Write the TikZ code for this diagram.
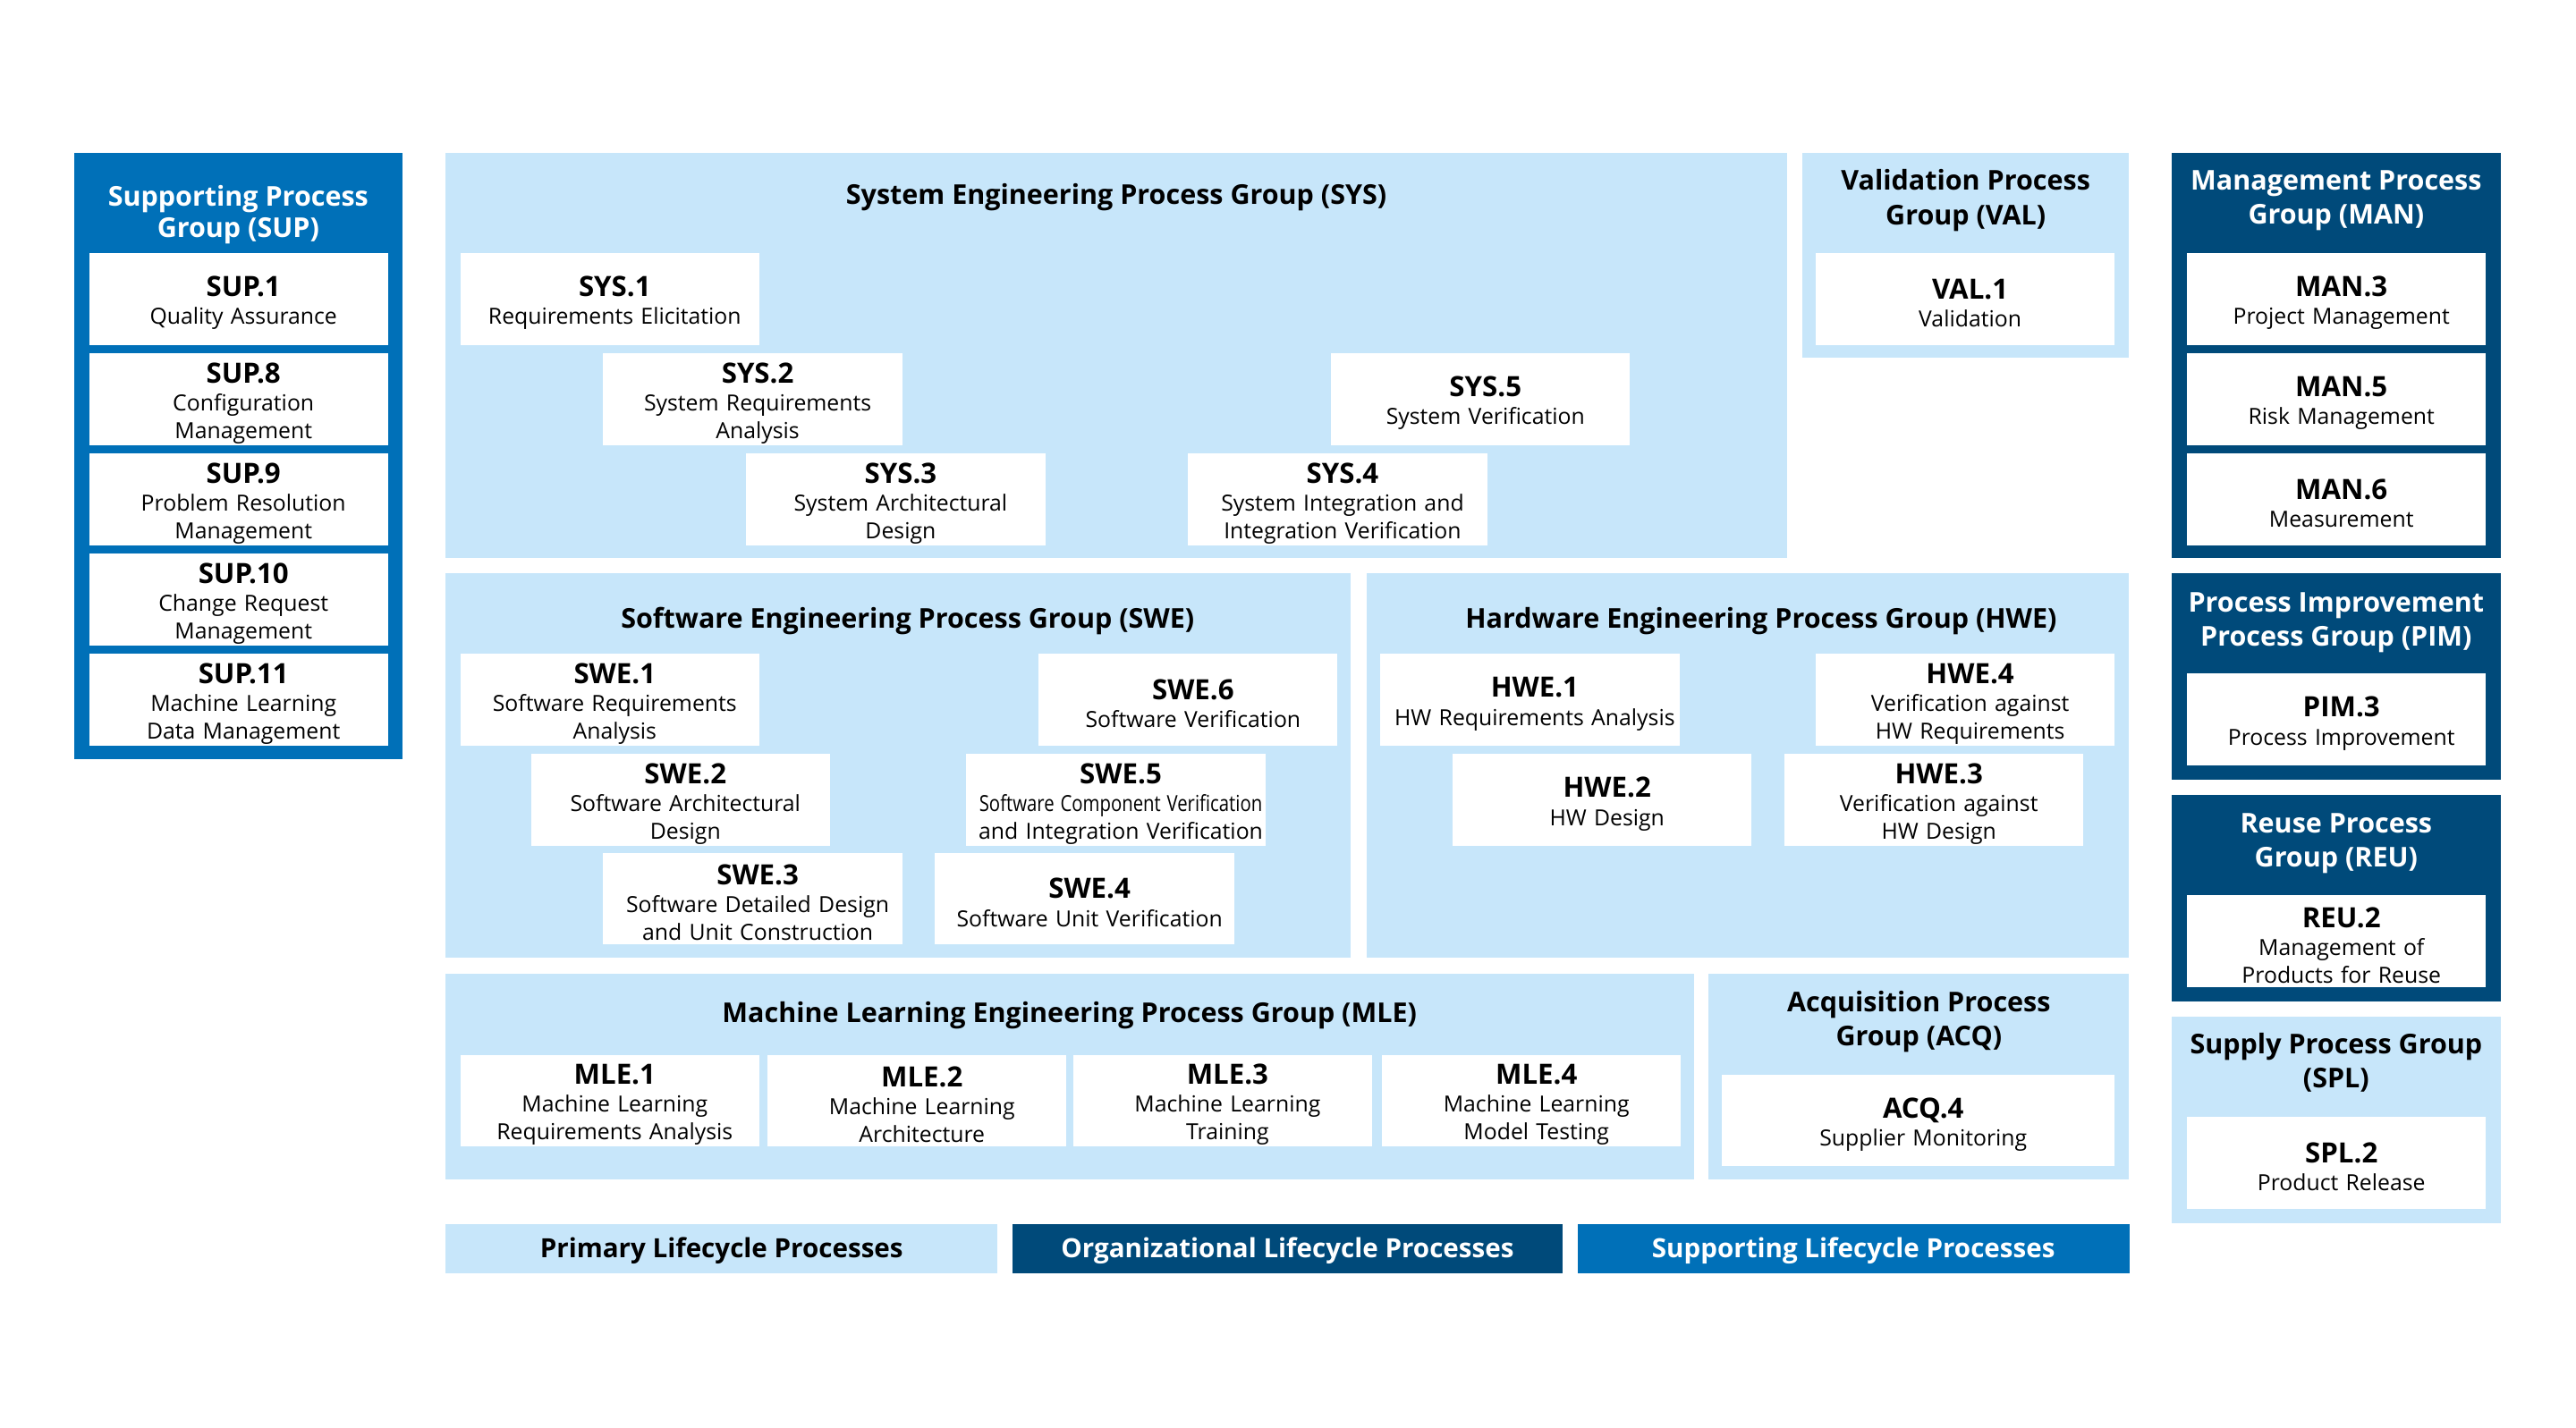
\documentclass[tikz,border=0pt]{standalone}
\usepackage{fontspec}
\usepackage{graphicx}
\setmainfont{Open Sans}
\usetikzlibrary{calc}
\definecolor{paleblue}{RGB}{199,230,250}
\definecolor{navy}{RGB}{0,74,122}
\definecolor{midblue}{RGB}{0,112,184}
\def\labfont{\fontsize{17}{18}\selectfont\bfseries\rule{0pt}{17pt}}
\def\titlefont{\fontsize{16.6}{21}\selectfont\bfseries}
\def\grpnode{\node[grp]}
\def\procnode{\node[proc]}
\def\ttlnode{\node[ttl]}

\begin{document}
\begin{tikzpicture}[x=1pt,y=-1pt,
  grp/.style={anchor=north west,inner sep=0pt,outer sep=0pt,fill=paleblue},
  proc/.style={anchor=north west,inner sep=0pt,fill=white,text width=182pt,minimum height=56pt,
    align=center,font=\fontsize{13.5}{17}\selectfont,
    execute at begin node={\advance\leftskip by 6pt}},
  ttl/.style={align=center,inner sep=0pt,font=\titlefont},
  key/.style={anchor=north west,inner sep=0pt,minimum height=30pt,text depth=1pt,
    font=\fontsize{16.1}{20}\selectfont\bfseries}]
\useasboundingbox (0,0) rectangle (1568,869);

% Supporting group (left column)
\grpnode[fill=midblue,minimum width=200pt,minimum height=369pt] (sup) at (45,93) {};
\ttlnode[text=white,font=\fontsize{16.6}{19}\selectfont\bfseries] (sup_t) at ($ (sup.north) + (0,37.5) $) {Supporting Process\\Group (SUP)};
\procnode (sup1) at (54,154) {{\labfont SUP.1}\\Quality Assurance};
\procnode (sup8) at (54,215) {{\labfont SUP.8}\\Configuration\\Management};
\procnode (sup9) at (54,276) {{\labfont SUP.9}\\Problem Resolution\\Management};
\procnode (sup10) at (54,337) {{\labfont SUP.10}\\Change Request\\Management};
\procnode (sup11) at (54,398) {{\labfont SUP.11}\\Machine Learning\\Data Management};

% System engineering, the V from left to right
\grpnode[minimum width=817pt,minimum height=247pt] (sys) at (271,93) {};
\ttlnode (sys_t) at ($ (sys.north) + (0,27) $) {System Engineering Process Group (SYS)};
\procnode (sys1) at (280,154) {{\labfont SYS.1}\\Requirements Elicitation};
\procnode (sys2) at (367,215) {{\labfont SYS.2}\\System Requirements\\Analysis};
\procnode (sys3) at (454,276) {{\labfont SYS.3}\\System Architectural\\Design};
\procnode (sys4) at (723,276) {{\labfont SYS.4}\\System Integration and\\Integration Verification};
\procnode (sys5) at (810,215) {{\labfont SYS.5}\\System Verification};

\grpnode[minimum width=199pt,minimum height=125pt] (val) at (1097,93) {};
\ttlnode (val_t) at ($ (val.north) + (0,29) $) {Validation Process\\Group (VAL)};
\procnode (val1) at (1105,154) {{\labfont VAL.1}\\Validation};

% Management groups (right column)
\grpnode[fill=navy,minimum width=200pt,minimum height=247pt] (man) at (1322,93) {};
\ttlnode[text=white] (man_t) at ($ (man.north) + (0,29) $) {Management Process\\Group (MAN)};
\procnode (man3) at (1331,154) {{\labfont MAN.3}\\Project Management};
\procnode (man5) at (1331,215) {{\labfont MAN.5}\\Risk Management};
\procnode (man6) at (1331,276) {{\labfont MAN.6}\\Measurement};

\grpnode[fill=navy,minimum width=200pt,minimum height=126pt] (pim) at (1322,349) {};
\ttlnode[text=white] (pim_t) at ($ (pim.north) + (0,30) $) {Process Improvement\\Process Group (PIM)};
\procnode (pim3) at (1331,410) {{\labfont PIM.3}\\Process Improvement};

\grpnode[fill=navy,minimum width=200pt,minimum height=126pt] (reu) at (1322,484) {};
\ttlnode[text=white] (reu_t) at ($ (reu.north) + (0,29.5) $) {Reuse Process\\Group (REU)};
\procnode (reu2) at (1331,545) {{\labfont REU.2}\\Management of\\Products for Reuse};

\grpnode[minimum width=200pt,minimum height=126pt] (spl) at (1322,619) {};
\ttlnode (spl_t) at ($ (spl.north) + (0,28) $) {Supply Process Group\\(SPL)};
\procnode (spl2) at (1331,680) {{\labfont SPL.2}\\Product Release};

% Software and hardware engineering
\grpnode[minimum width=551pt,minimum height=234pt] (swe) at (271,349) {};
\ttlnode (swe_t) at ($ (swe.north) + (6,29) $) {Software Engineering Process Group (SWE)};
\procnode (swe1) at (280,398) {{\labfont SWE.1}\\Software Requirements\\Analysis};
\procnode (swe2) at (323,459) {{\labfont SWE.2}\\Software Architectural\\Design};
\procnode (swe3) at (367,519) {{\labfont SWE.3}\\Software Detailed Design\\and Unit Construction};
\procnode (swe4) at (569,519) {{\labfont SWE.4}\\Software Unit Verification};
\procnode (swe5) at (588,459) {{\labfont SWE.5}\\\scalebox{0.82}[1]{Software Component Verification}\\and Integration Verification};
\procnode (swe6) at (632,398) {{\labfont SWE.6}\\Software Verification};

\grpnode[minimum width=464pt,minimum height=234pt] (hwe) at (832,349) {};
\ttlnode (hwe_t) at ($ (hwe.north) + (8,29) $) {Hardware Engineering Process Group (HWE)};
\procnode (hwe1) at (840,398) {{\labfont HWE.1}\\HW Requirements Analysis};
\procnode (hwe2) at (884,459) {{\labfont HWE.2}\\HW Design};
\procnode (hwe3) at (1086,459) {{\labfont HWE.3}\\Verification against\\HW Design};
\procnode (hwe4) at (1105,398) {{\labfont HWE.4}\\Verification against\\HW Requirements};

% Machine learning and acquisition
\grpnode[minimum width=760pt,minimum height=125pt] (mle) at (271,593) {};
\ttlnode (mle_t) at ($ (mle.north) + (0,25) $) {Machine Learning Engineering Process Group (MLE)};
\procnode (mle1) at (280,642) {{\labfont MLE.1}\\Machine Learning\\Requirements Analysis};
\procnode (mle2) at (467,642) {{\labfont MLE.2}\\Machine Learning\\Architecture};
\procnode (mle3) at (653,642) {{\labfont MLE.3}\\Machine Learning\\Training};
\procnode (mle4) at (841,642) {{\labfont MLE.4}\\Machine Learning\\Model Testing};

\grpnode[minimum width=256pt,minimum height=125pt] (acq) at (1040,593) {};
\ttlnode (acq_t) at ($ (acq.north) + (0,29) $) {Acquisition Process\\Group (ACQ)};
\procnode[text width=239pt] (acq4) at (1048,654) {{\labfont ACQ.4}\\Supplier Monitoring};

% Legend
\node[key,fill=paleblue,minimum width=336pt] (primary) at (271,745) {Primary Lifecycle Processes};
\node[key,fill=navy,text=white,minimum width=335pt] (organizational) at (616,745) {Organizational Lifecycle Processes};
\node[key,fill=midblue,text=white,minimum width=336pt] (supporting) at (960,745) {Supporting Lifecycle Processes};
\end{tikzpicture}
\end{document}
